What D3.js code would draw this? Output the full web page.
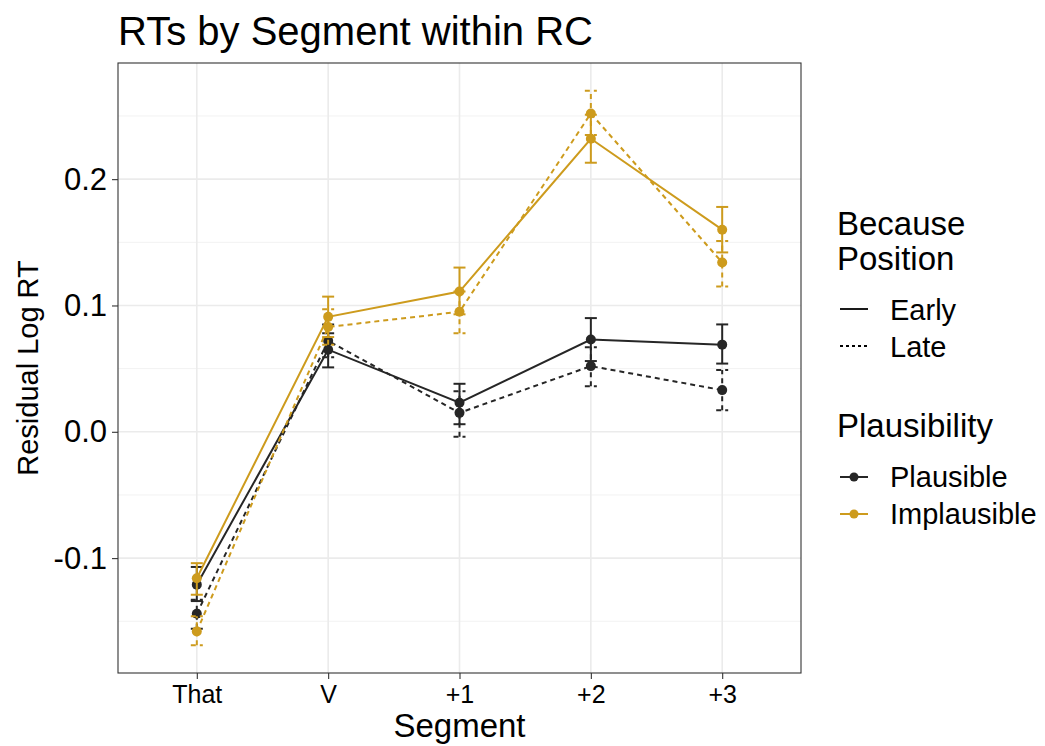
<!DOCTYPE html>
<html>
<head>
<meta charset="utf-8">
<script src="https://cdn.jsdelivr.net/npm/d3@7"></script>
<style>
  html, body { margin: 0; padding: 0; background: #ffffff; }
  svg text { font-family: "Liberation Sans", Arial, Helvetica, sans-serif; fill: #000; }
</style>
</head>
<body>
<svg id="chart" width="1045" height="746"></svg>
<script>
// Segments along the relative clause
const segments = ["That", "V", "+1", "+2", "+3"];

// Mean residual log RT and interval bounds, per plausibility × because-position
const plausibleEarlyMean = [-0.121, 0.065, 0.023, 0.073, 0.069];
const plausibleEarlyLow  = [-0.134, 0.051, 0.006, 0.056, 0.054];
const plausibleEarlyHigh = [-0.107, 0.078, 0.038, 0.090, 0.085];

const plausibleLateMean  = [-0.144, 0.072, 0.015, 0.052, 0.033];
const plausibleLateLow   = [-0.156, 0.059, -0.004, 0.036, 0.017];
const plausibleLateHigh  = [-0.133, 0.085, 0.032, 0.067, 0.049];

const implausibleEarlyMean = [-0.116, 0.091, 0.111, 0.232, 0.160];
const implausibleEarlyLow  = [-0.129, 0.075, 0.093, 0.213, 0.142];
const implausibleEarlyHigh = [-0.104, 0.107, 0.130, 0.251, 0.178];

const implausibleLateMean = [-0.158, 0.083, 0.095, 0.252, 0.134];
const implausibleLateLow  = [-0.169, 0.069, 0.078, 0.235, 0.115];
const implausibleLateHigh = [-0.146, 0.097, 0.111, 0.270, 0.151];

const yTicks = [-0.1, 0.0, 0.1, 0.2];
const yMinorTicks = [-0.15, -0.05, 0.05, 0.15, 0.25];

const plausibilityLevels = ["Plausible", "Implausible"];
const positionLevels = ["Early", "Late"];
const colours = { Plausible: "#262626", Implausible: "#CD9B1D" };
const dashes = { Early: null, Late: "5,4" };

const groups = [
  { plaus: "Plausible",   pos: "Early", mean: plausibleEarlyMean,   lo: plausibleEarlyLow,   hi: plausibleEarlyHigh },
  { plaus: "Plausible",   pos: "Late",  mean: plausibleLateMean,    lo: plausibleLateLow,    hi: plausibleLateHigh },
  { plaus: "Implausible", pos: "Early", mean: implausibleEarlyMean, lo: implausibleEarlyLow, hi: implausibleEarlyHigh },
  { plaus: "Implausible", pos: "Late",  mean: implausibleLateMean,  lo: implausibleLateLow,  hi: implausibleLateHigh }
].map(g => ({
  ...g,
  rows: segments.map((s, i) => ({ seg: s, mean: g.mean[i], lo: g.lo[i], hi: g.hi[i] }))
}));

const svg = d3.select("#chart");
const panel = { left: 118, top: 63, right: 801, bottom: 673 };

// Discrete x: 0.6 unit of padding on each side
const x = d3.scalePoint().domain(segments)
  .range([panel.left, panel.right]).padding(0.6);

// Continuous y with 5% expansion of the data range
const allLo = d3.min(groups, g => d3.min(g.lo));
const allHi = d3.max(groups, g => d3.max(g.hi));
const pad = (allHi - allLo) * 0.05;
const y = d3.scaleLinear().domain([allLo - pad, allHi + pad])
  .range([panel.bottom, panel.top]);

// Panel background grid
const grid = svg.append("g");
grid.selectAll("line.minor").data(yMinorTicks).join("line")
  .attr("x1", panel.left).attr("x2", panel.right)
  .attr("y1", d => y(d)).attr("y2", d => y(d))
  .attr("stroke", "#f2f2f2").attr("stroke-width", 1);
grid.selectAll("line.majory").data(yTicks).join("line")
  .attr("x1", panel.left).attr("x2", panel.right)
  .attr("y1", d => y(d)).attr("y2", d => y(d))
  .attr("stroke", "#ebebeb").attr("stroke-width", 1.6);
grid.selectAll("line.majorx").data(segments).join("line")
  .attr("x1", d => x(d)).attr("x2", d => x(d))
  .attr("y1", panel.top).attr("y2", panel.bottom)
  .attr("stroke", "#ebebeb").attr("stroke-width", 1.6);

// Series
const line = d3.line().x(d => x(d.seg)).y(d => y(d.mean));
const capHalf = 6;
const series = svg.append("g").selectAll("g").data(groups).join("g")
  .attr("stroke", d => colours[d.plaus])
  .attr("fill", d => colours[d.plaus]);

series.append("path")
  .attr("d", d => line(d.rows))
  .attr("fill", "none")
  .attr("stroke-width", 2)
  .attr("stroke-dasharray", d => dashes[d.pos]);

series.each(function (g) {
  const sel = d3.select(this);
  const eb = sel.selectAll("g.eb").data(g.rows).join("g")
    .attr("stroke-dasharray", dashes[g.pos]).attr("stroke-width", 2);
  eb.append("line")
    .attr("x1", d => x(d.seg)).attr("x2", d => x(d.seg))
    .attr("y1", d => y(d.lo)).attr("y2", d => y(d.hi));
  eb.append("line")
    .attr("x1", d => x(d.seg) - capHalf).attr("x2", d => x(d.seg) + capHalf)
    .attr("y1", d => y(d.hi)).attr("y2", d => y(d.hi));
  eb.append("line")
    .attr("x1", d => x(d.seg) - capHalf).attr("x2", d => x(d.seg) + capHalf)
    .attr("y1", d => y(d.lo)).attr("y2", d => y(d.lo));
  sel.selectAll("circle").data(g.rows).join("circle")
    .attr("cx", d => x(d.seg)).attr("cy", d => y(d.mean))
    .attr("r", 5).attr("stroke", "none");
});

// Panel border
svg.append("rect")
  .attr("x", panel.left).attr("y", panel.top)
  .attr("width", panel.right - panel.left).attr("height", panel.bottom - panel.top)
  .attr("fill", "none").attr("stroke", "#333333").attr("stroke-width", 1.1);

// Axes (tick labels use a plain hyphen for negatives)
const fmt = d => d.toFixed(1);
const yAxis = svg.append("g").attr("transform", `translate(${panel.left},0)`)
  .call(d3.axisLeft(y).tickValues(yTicks).tickFormat(fmt).tickSize(6).tickPadding(5));
yAxis.select(".domain").remove();
yAxis.selectAll(".tick line").attr("stroke", "#333333").attr("stroke-width", 1.1);
yAxis.selectAll(".tick text").attr("font-size", 31).attr("fill", "#000")
  .attr("font-family", "Liberation Sans, Arial, sans-serif");

const xAxis = svg.append("g").attr("transform", `translate(0,${panel.bottom})`)
  .call(d3.axisBottom(x).tickSize(6).tickPadding(6));
xAxis.select(".domain").remove();
xAxis.selectAll(".tick line").attr("stroke", "#333333").attr("stroke-width", 1.1);
xAxis.selectAll(".tick text").attr("font-size", 25).attr("fill", "#000")
  .attr("font-family", "Liberation Sans, Arial, sans-serif");

// Titles
svg.append("text").attr("x", 118).attr("y", 45)
  .attr("font-size", 40).text("RTs by Segment within RC");
svg.append("text").attr("x", (panel.left + panel.right) / 2).attr("y", 737)
  .attr("text-anchor", "middle").attr("font-size", 33).text("Segment");
svg.append("text")
  .attr("transform", `translate(38,${(panel.top + panel.bottom) / 2}) rotate(-90)`)
  .attr("text-anchor", "middle").attr("font-size", 29).text("Residual Log RT");

// Legend: because position (linetype)
const lg = svg.append("g");
lg.append("text").attr("x", 837).attr("y", 235).attr("font-size", 33).text("Because");
lg.append("text").attr("x", 837).attr("y", 270).attr("font-size", 33).text("Position");
const ltRows = lg.selectAll("g.lt").data(positionLevels).join("g")
  .attr("transform", (d, i) => `translate(0,${309 + i * 37})`);
ltRows.append("line").attr("x1", 840).attr("x2", 868).attr("y1", 0).attr("y2", 0)
  .attr("stroke", "#000").attr("stroke-width", 1.8)
  .attr("stroke-dasharray", d => d === "Late" ? "3,3" : null);
ltRows.append("text").attr("x", 890).attr("y", 11).attr("font-size", 29).text(d => d);

// Legend: plausibility (colour)
lg.append("text").attr("x", 837).attr("y", 437).attr("font-size", 33).text("Plausibility");
const colRows = lg.selectAll("g.col").data(plausibilityLevels).join("g")
  .attr("transform", (d, i) => `translate(0,${477 + i * 37})`);
colRows.append("line").attr("x1", 840).attr("x2", 868).attr("y1", 0).attr("y2", 0)
  .attr("stroke", d => colours[d]).attr("stroke-width", 2);
colRows.append("circle").attr("cx", 854).attr("cy", 0).attr("r", 4.5)
  .attr("fill", d => colours[d]);
colRows.append("text").attr("x", 890).attr("y", 10).attr("font-size", 29).text(d => d);
</script>
</body>
</html>
